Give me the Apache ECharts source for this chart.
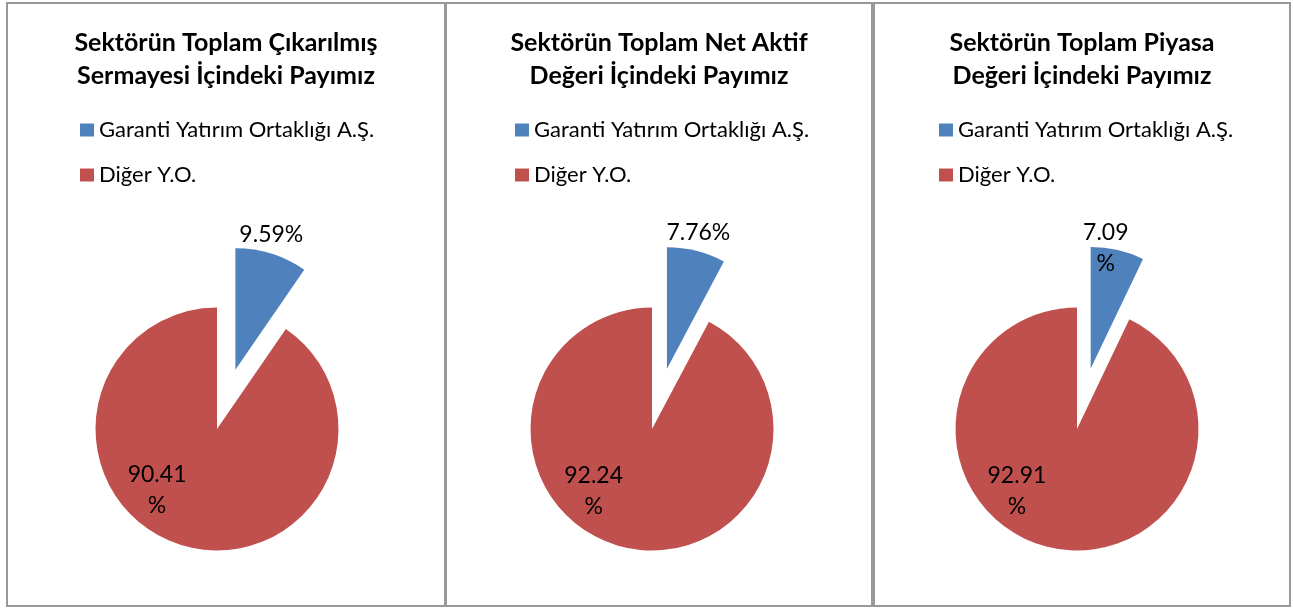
<!DOCTYPE html>
<html>
<head>
<meta charset="utf-8">
<script src="https://cdn.jsdelivr.net/npm/echarts@6/dist/echarts.min.js"></script>
<style>
  html, body { margin: 0; padding: 0; background: #fff; }
  #main { width: 1293px; height: 608px; }
</style>
</head>
<body>
<div id="main"></div>
<script>
// chart data
const categories = ['Garanti Yatırım Ortaklığı A.Ş.', 'Diğer Y.O.']
const chartTitles = [
  'Sektörün Toplam Çıkarılmış\nSermayesi İçindeki Payımız',
  'Sektörün Toplam Net Aktif\nDeğeri İçindeki Payımız',
  'Sektörün Toplam Piyasa\nDeğeri İçindeki Payımız'
]
const sermayeShare = [9.59, 90.41]
const netAktifShare = [7.76, 92.24]
const piyasaShare = [7.09, 92.91]

const shares = [sermayeShare, netAktifShare, piyasaShare]
const colors = ['#4f81bd', '#c0504d']
const font = 'Lato, "Open Sans", sans-serif'

// panel layout (boxes, centres) and label placement tweaks
const panels = [
  { x: 7, w: 438, mid: 226, legendLeft: 80, pie: 217, wrap: [false, true], offsets: [[17, -74], [-41, 0]] },
  { x: 446, w: 426, mid: 659, legendLeft: 515, pie: 652, wrap: [false, true], offsets: [[16, -74], [-43, 0]] },
  { x: 874, w: 416, mid: 1082, legendLeft: 939, pie: 1077, wrap: [true, true], offsets: [[1, -58], [-46, 0]] }
]

const chart = echarts.init(document.getElementById('main'))

const option = {
  animation: false,
  color: colors,
  title: panels.map((p, i) => ({
    text: chartTitles[i],
    left: p.mid,
    top: 26,
    padding: 0,
    textAlign: 'center',
    textStyle: {
      fontFamily: font,
      fontWeight: 'bold',
      fontSize: 25,
      lineHeight: 33,
      color: '#000'
    }
  })),
  legend: panels.map(p => ({
    data: categories,
    orient: 'vertical',
    left: p.legendLeft,
    top: 118,
    padding: 0,
    itemWidth: 14,
    itemHeight: 13,
    itemGap: 21,
    icon: 'rect',
    selectedMode: false,
    textStyle: {
      fontFamily: font,
      fontSize: 22,
      lineHeight: 24,
      color: '#000'
    }
  })),
  graphic: panels.map(p => ({
    type: 'rect',
    shape: { x: p.x, y: 3, width: p.w, height: 603 },
    style: { fill: 'none', stroke: '#999', lineWidth: 2 },
    silent: true
  })),
  series: panels.map((p, i) => ({
    type: 'pie',
    center: [p.pie, 429],
    radius: 121.5,
    startAngle: 90,
    clockwise: true,
    selectedMode: 'single',
    selectedOffset: 62,
    avoidLabelOverlap: false,
    emphasis: { disabled: true },
    itemStyle: { borderWidth: 0 },
    labelLine: { show: false },
    data: categories.map((name, j) => ({
      name: name,
      value: shares[i][j],
      selected: j === 0,
      itemStyle: { color: colors[j] },
      select: {
        itemStyle: { color: colors[j] },
        label: { offset: p.offsets[j] }
      },
      label: {
        show: true,
        position: 'inside',
        offset: p.offsets[j],
        fontFamily: font,
        fontSize: 23,
        lineHeight: 31,
        color: '#000',
        formatter: prm => prm.value.toFixed(2) + (p.wrap[j] ? '\n%' : '%')
      }
    }))
  }))
}

chart.setOption(option)
</script>
</body>
</html>
